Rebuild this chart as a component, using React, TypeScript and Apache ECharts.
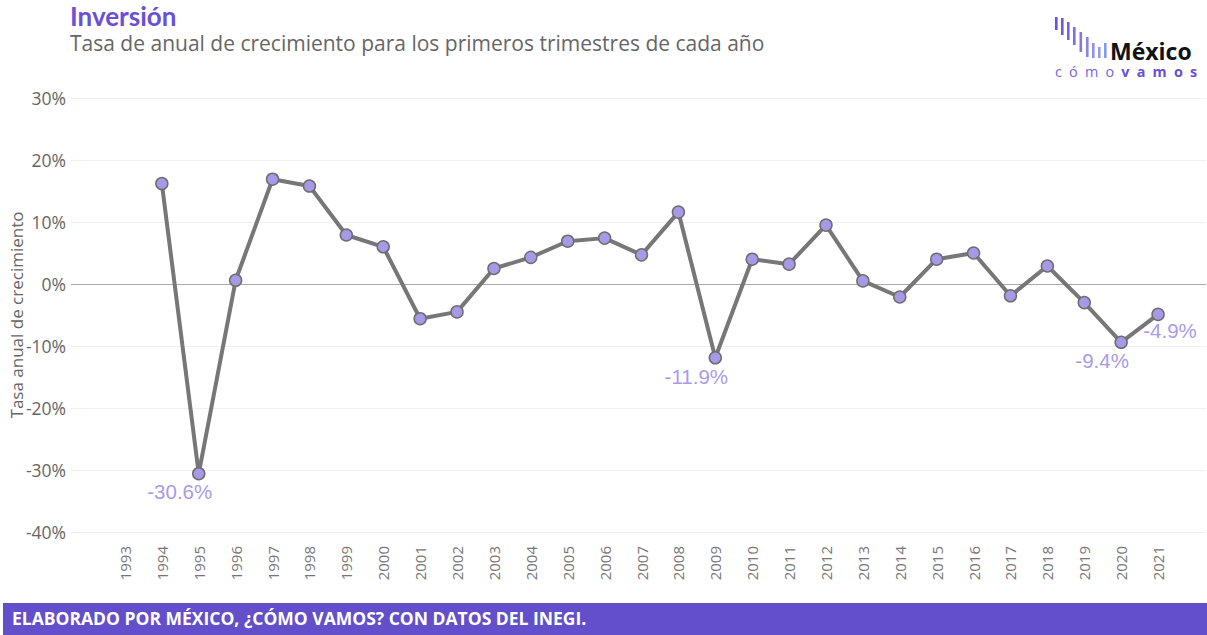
import React, { useEffect, useRef } from "react";
import * as echarts from "echarts";

const years = ["1993","1994","1995","1996","1997","1998","1999","2000","2001","2002","2003","2004","2005","2006","2007","2008","2009","2010","2011","2012","2013","2014","2015","2016","2017","2018","2019","2020","2021"];
const values: (number | null)[] = [null,16.2,-30.6,0.6,16.9,15.8,7.9,6.0,-5.6,-4.5,2.5,4.3,6.9,7.4,4.7,11.6,-11.9,4.0,3.2,9.5,0.5,-2.1,4.0,5.0,-1.9,2.9,-3.0,-9.4,-4.9];
const labeledYears = ["1995","2009","2020"];
const labeledRightYears = ["2021"];

const yMin = -40;
const yMax = 30;
const yStep = 10;

const title = "Inversión";
const subtitle = "Tasa de anual de crecimiento para los primeros trimestres de cada año";
const yName = "Tasa anual de crecimiento";
const footer = "ELABORADO POR MÉXICO, ¿CÓMO VAMOS? CON DATOS DEL INEGI.";
const logoWord = "México";
const logoComo = ["c", "ó", "m", "o"];
const logoVamos = ["v", "a", "m", "o", "s"];

const logoBars = [
  { x: 1055, top: 17, bottom: 30, color: "#6a4fe0" },
  { x: 1061, top: 18, bottom: 35, color: "#6f57e2" },
  { x: 1067, top: 22, bottom: 40, color: "#7562e3" },
  { x: 1073, top: 27, bottom: 45, color: "#7b6de5" },
  { x: 1079.5, top: 32, bottom: 52, color: "#8178e6" },
  { x: 1086, top: 37, bottom: 57, color: "#8785e8" },
  { x: 1092, top: 43, bottom: 58, color: "#8e92ea" },
  { x: 1098, top: 47, bottom: 58, color: "#929ceb" },
  { x: 1104, top: 43, bottom: 58, color: "#7f9be9" },
];

export default function App() {
  const ref = useRef<HTMLDivElement>(null);
  useEffect(() => {
    document.body.style.margin = "0";
    const chart = echarts.init(ref.current!, undefined, { renderer: "svg" });
    const seriesData = values.map((v, i) => {
      const y = years[i];
      if (labeledYears.includes(y)) {
        return {
          value: v,
          label: { show: true, position: "bottom", offset: [-19, -3] },
        };
      }
      if (labeledRightYears.includes(y)) {
        return {
          value: v,
          label: { show: true, position: "bottom", offset: [12, -5] },
        };
      }
      return { value: v };
    });
    const sp = "\u2002";
    chart.setOption({
      animation: false,
      backgroundColor: "#ffffff",
      grid: [
        { left: 71, right: 1, top: 98, bottom: 103, outerBoundsMode: "none", containLabel: false },
        { left: 106.5, right: 30.5, top: 98, bottom: 103, outerBoundsMode: "none", containLabel: false },
      ],
      xAxis: [
        { gridIndex: 0, type: "value", min: 0, max: 1, show: false },
        {
          gridIndex: 1,
          type: "category",
          data: years,
          boundaryGap: true,
          axisLine: { show: false },
          axisTick: { show: false },
          axisLabel: {
            rotate: 90,
            interval: 0,
            margin: 14,
            color: "#777",
            fontSize: 15,
            fontFamily: "Open Sans",
          },
        },
      ],
      yAxis: [
        {
          gridIndex: 0,
          type: "value",
          min: yMin,
          max: yMax,
          interval: yStep,
          name: yName,
          nameLocation: "middle",
          nameGap: 46,
          nameMoveOverlap: false,
          nameTextStyle: { color: "#666", fontSize: 17, fontFamily: "Open Sans" },
          axisLine: { show: false },
          axisTick: { show: false },
          axisLabel: {
            formatter: "{value}%",
            color: "#666",
            fontSize: 17.5,
            fontFamily: "Open Sans",
            margin: 5,
          },
          splitLine: { lineStyle: { color: "#f0f0f0", width: 1 } },
        },
        {
          gridIndex: 1,
          type: "value",
          min: yMin,
          max: yMax,
          interval: yStep,
          show: false,
        },
      ],
      series: [
        {
          type: "line",
          xAxisIndex: 0,
          yAxisIndex: 0,
          data: [],
          markLine: {
            silent: true,
            symbol: "none",
            label: { show: false },
            lineStyle: { color: "#aaaaaa", width: 1, type: "solid" },
            data: [{ yAxis: 0 }],
          },
        },
        {
          type: "line",
          xAxisIndex: 1,
          yAxisIndex: 1,
          data: seriesData,
          connectNulls: false,
          symbol: "circle",
          symbolSize: 12,
          lineStyle: { color: "#777777", width: 4 },
          itemStyle: { color: "#a899e8", borderColor: "#6e6e6e", borderWidth: 1.5 },
          label: {
            show: false,
            formatter: (p: any) => `${p.value.toFixed(1)}%`,
            color: "#a99be8",
            fontSize: 20.5,
            fontFamily: "Liberation Sans",
            distance: 4,
          },
          z: 5,
        },
      ],
      graphic: [
        {
          type: "text",
          left: 70,
          top: 3,
          style: { text: title, fill: "#6a4fd8", font: "bold 26px Lato", lineHeight: 26 },
        },
        {
          type: "text",
          left: 70,
          top: 31,
          style: { text: subtitle, fill: "#666666", font: "21px 'Open Sans'", lineHeight: 23 },
        },
        ...logoBars.map((b) => ({
          type: "rect",
          shape: { x: b.x, y: b.top, width: 2.6, height: b.bottom - b.top },
          style: { fill: b.color },
        })),
        {
          type: "text",
          x: 1055,
          y: 37,
          style: {
            text:
              `{m|${logoWord}}\n{a|${logoComo.join(sp)}${sp}}{b|${logoVamos.join(sp)}}`,
            textVerticalAlign: "top",
            rich: {
              m: {
                fill: "#111111",
                font: "bold 23px 'Open Sans'",
                lineHeight: 27,
                padding: [0, 0, 0, 55],
              },
              a: { fill: "#7a64e0", font: "14.4px 'Open Sans'", lineHeight: 14 },
              b: { fill: "#6a4fd8", font: "bold 14.4px 'Open Sans'", lineHeight: 14 },
            },
          },
        },
        {
          type: "rect",
          shape: { x: 3, y: 603, width: 1204, height: 32 },
          style: { fill: "#634fc9" },
        },
        {
          type: "text",
          left: 12,
          top: 609,
          style: { text: footer, fill: "#ffffff", font: "bold 17.5px 'Open Sans'" },
        },
      ],
    });
    return () => chart.dispose();
  }, []);
  return <div ref={ref} style={{ width: 1207, height: 635 }} />;
}
